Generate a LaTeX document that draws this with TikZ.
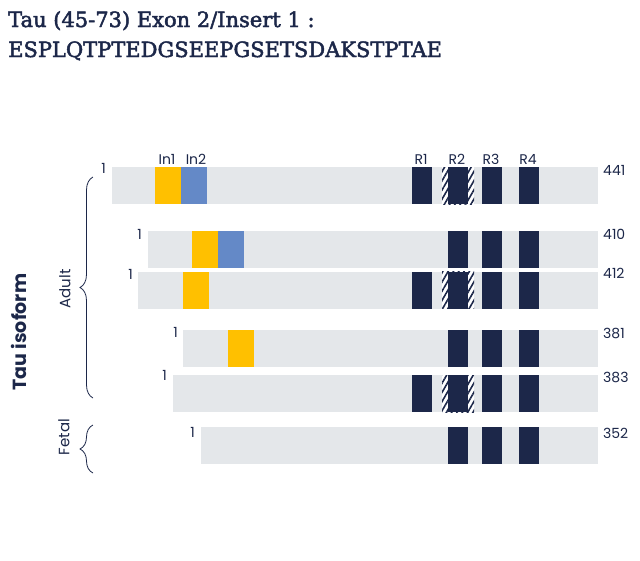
\documentclass[tikz,border=0pt]{standalone}
\usepackage{fontspec}
\setmainfont{Poppins}
\newfontfamily\titlefont[FakeBold=2.2]{DejaVu Serif}
\usetikzlibrary{patterns.meta,decorations.pathreplacing}
\definecolor{navy}{HTML}{1C2749}
\definecolor{bargrey}{HTML}{E4E7EA}
\definecolor{insa}{HTML}{FFC000}
\definecolor{insb}{HTML}{6489C7}
\tikzset{
  lbl/.style={font=\fontsize{14}{16}\selectfont, text=navy, inner sep=0pt},
  titletext/.style={font=\titlefont\fontsize{21}{24}\selectfont, text=navy, inner sep=0pt, anchor=base west},
  bracestyle/.style={draw=navy, line width=0.8pt, decorate, decoration={brace, amplitude=13pt}},
  sidetext/.style={font=\fontsize{15}{17}\selectfont, text=navy, rotate=90, inner sep=0pt},
}
\newcommand\isobar[2]{\fill[bargrey] (#2,#1) rectangle (598,{#1+37});}
\newcommand\rptbox[2]{\fill[navy] (#1,#2) rectangle ++(20,37);}
\newcommand\hatchbox[1]{\fill[white] (442,#1) rectangle ++(32,37);
  \fill[pattern={Lines[angle=60,distance=4.6pt,line width=1.6pt]}, pattern color=navy] (442,#1) rectangle ++(32,37);}
\newcommand\insbox[3]{\fill[#1] (#2,#3) rectangle ++(26,37);}
\begin{document}
\begin{tikzpicture}[x=1pt,y=-1pt]
\useasboundingbox (0,0) rectangle (640,560);
\fill[white] (0,0) rectangle (640,560);
% title
\node[titletext] (t1) at (8,27) {Tau (45-73) Exon 2/Insert 1 :};
\node[titletext] (t2) at (8,57) {ESPLQTPTEDGSEEPGSETSDAKSTPTAE};
% row 1 (441)
\isobar{167}{112}
\insbox{insa}{155}{167}\insbox{insb}{181}{167}
\hatchbox{167}
\rptbox{412}{167}\rptbox{448}{167}\rptbox{482}{167}\rptbox{519}{167}
% row 2 (410)
\isobar{231}{148}
\insbox{insa}{192}{231}\insbox{insb}{218}{231}
\rptbox{448}{231}\rptbox{482}{231}\rptbox{519}{231}
% row 3 (412)
\isobar{271.5}{138}
\insbox{insa}{183}{271.5}
\hatchbox{271.5}
\rptbox{412}{271.5}\rptbox{448}{271.5}\rptbox{482}{271.5}\rptbox{519}{271.5}
% row 4 (381)
\isobar{330}{183}
\insbox{insa}{228}{330}
\rptbox{448}{330}\rptbox{482}{330}\rptbox{519}{330}
% row 5 (383)
\isobar{375}{173}
\hatchbox{375}
\rptbox{412}{375}\rptbox{448}{375}\rptbox{482}{375}\rptbox{519}{375}
% row 6 (352)
\isobar{427}{201}
\rptbox{448}{427}\rptbox{482}{427}\rptbox{519}{427}
% top labels
\node[lbl, anchor=base] (lin1) at (167,164) {In1};
\node[lbl, anchor=base] (lin2) at (196,164) {In2};
\node[lbl, anchor=base] (lr1) at (421,164) {R1};
\node[lbl, anchor=base] (lr2) at (457,164) {R2};
\node[lbl, anchor=base] (lr3) at (491,164) {R3};
\node[lbl, anchor=base] (lr4) at (528,164) {R4};
% right numbers
\node[lbl, anchor=base west] (n441) at (603,175) {441};
\node[lbl, anchor=base west] (n410) at (603,239) {410};
\node[lbl, anchor=base west] (n412) at (603,278) {412};
\node[lbl, anchor=base west] (n381) at (603,338) {381};
\node[lbl, anchor=base west] (n383) at (603,382) {383};
\node[lbl, anchor=base west] (n352) at (603,438) {352};
% start numbers
\node[lbl, anchor=base east] (s1) at (106,173) {1};
\node[lbl, anchor=base east] (s2) at (142,239) {1};
\node[lbl, anchor=base east] (s3) at (133,279) {1};
\node[lbl, anchor=base east] (s4) at (178,337) {1};
\node[lbl, anchor=base east] (s5) at (167,380) {1};
\node[lbl, anchor=base east] (s6) at (195,437) {1};
% braces
\coordinate (abot) at (93,398);
\coordinate (atop) at (93,177);
\coordinate (fbot) at (93,473);
\coordinate (ftop) at (93,425);
\draw[bracestyle] (abot) -- (atop);
\draw[bracestyle] (fbot) -- (ftop);
\node[sidetext] (adult) at (65,289) {Adult};
\node[sidetext] (fetal) at (64,437) {Fetal};
\node[sidetext, font=\bfseries\fontsize{19}{21}\selectfont] (tau) at (19,332) {Tau isoform};
\end{tikzpicture}
\end{document}
